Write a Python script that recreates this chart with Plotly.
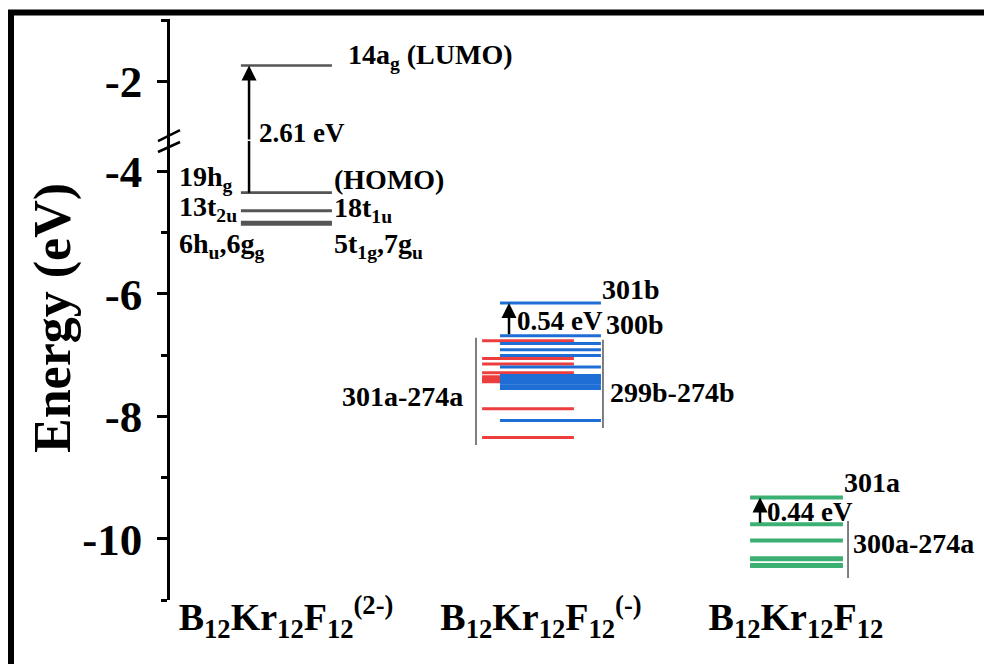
import plotly.graph_objects as go

# ---------------- data ----------------
categories = ["B<sub>12</sub>Kr<sub>12</sub>F<sub>12</sub><sup>(2-)</sup>",
              "B<sub>12</sub>Kr<sub>12</sub>F<sub>12</sub><sup>(-)</sup>",
              "B<sub>12</sub>Kr<sub>12</sub>F<sub>12</sub>"]
cat_pos = [1, 2, 3]

dianion_lumo = [-1.74]
dianion_occ = [-4.35, -4.645, -4.83, -4.865]
anion_alpha = [-6.767, -7.056, -7.148, -7.29, -7.355, -7.38, -7.40, -7.42, -7.437, -7.878, -8.346]
anion_beta = [-6.152, -6.686, -6.811, -6.914, -7.007, -7.197, -7.335, -7.36, -7.385, -7.41,
              -7.435, -7.46, -7.507, -7.545, -8.068]
neutral_alpha = [-9.325, -9.765, -10.03, -10.32, -10.335, -10.43, -10.445]

gaps = [2.61, 0.54, 0.44]

ytick_vals_low = [-10, -8, -6, -4]
ytick_text_low = ["-10", "-8", "-6", "-4"]
yminor_low = [-11, -9, -7, -5]
ytick_vals_high = [-2]
ytick_text_high = ["-2"]
yminor_high = [-1]

low_range = [-11, -3.506]
high_range = [-2.971, -0.98]
split = 0.790

FONT = "Liberation Serif"
GRAY = "#555555"
RED = "#EC3E3E"
BLUE = "#1F6ED6"
GREEN = "#3CB072"


def segs(levels, x0, x1):
    xs, ys = [], []
    for e in levels:
        xs += [x0, x1, None]
        ys += [e, e, None]
    return xs, ys


fig = go.Figure()


def add_levels(levels, center, left, right, color, width, yaxis="y"):
    xs, ys = segs(levels, center + left, center + right)
    fig.add_trace(go.Scatter(x=xs, y=ys, mode="lines", yaxis=yaxis,
                             line=dict(color=color, width=width),
                             hoverinfo="skip", showlegend=False))


add_levels(dianion_lumo, cat_pos[0], -0.177, 0.180, GRAY, 2.5, yaxis="y2")
add_levels(dianion_occ, cat_pos[0], -0.177, 0.180, GRAY, 2.8)
add_levels(anion_alpha, cat_pos[1], -0.231, 0.129, RED, 3)
add_levels(anion_beta, cat_pos[1], -0.161, 0.235, BLUE, 3)
add_levels(neutral_alpha, cat_pos[2], -0.180, 0.184, GREEN, 4)

# brackets
brackets = [(cat_pos[1] - 0.255, -6.72, -8.47), (cat_pos[1] + 0.243, -6.75, -8.19),
            (cat_pos[2] + 0.204, -9.71, -10.64)]
for bx, b0, b1 in brackets:
    fig.add_trace(go.Scatter(x=[bx, bx], y=[b0, b1], mode="lines",
                             line=dict(color=GRAY, width=1.5),
                             hoverinfo="skip", showlegend=False))

arrow_font = dict(family=FONT, size=27, color="black", weight="bold")
lab_font = dict(family=FONT, size=28, color="black", weight="bold")

# HOMO -> LUMO arrow across the axis break: shaft on lower axis + arrow on upper axis
ax1 = cat_pos[0] - 0.145
fig.add_trace(go.Scatter(x=[ax1, ax1], y=[dianion_occ[0], low_range[1]], mode="lines",
                         line=dict(color="black", width=2.5), hoverinfo="skip",
                         showlegend=False))
fig.add_annotation(x=ax1, y=dianion_lumo[0], xref="x", yref="y2",
                   ax=ax1, ay=high_range[0], axref="x", ayref="y2",
                   text="", showarrow=True, arrowhead=2, arrowsize=1.2, arrowwidth=2.5,
                   arrowcolor="black")
fig.add_annotation(x=cat_pos[1] - 0.1255, y=anion_beta[0], xref="x", yref="y",
                   ax=cat_pos[1] - 0.1255, ay=anion_beta[1], axref="x", ayref="y",
                   text="", showarrow=True, arrowhead=2, arrowsize=1.2, arrowwidth=2.5,
                   arrowcolor="black")
fig.add_annotation(x=cat_pos[2] - 0.141, y=neutral_alpha[0], xref="x", yref="y",
                   ax=cat_pos[2] - 0.141, ay=neutral_alpha[1], axref="x", ayref="y",
                   text="", showarrow=True, arrowhead=2, arrowsize=1.2, arrowwidth=2.5,
                   arrowcolor="black")

# labels: (text, x, y, yref, xanchor, font)
labels = [
    ("14a<sub>g</sub> (LUMO)", 1.235, -1.60, "y2", "left", lab_font),
    ("%.2f eV" % gaps[0], 0.888, -2.84, "y2", "left", arrow_font),
    ("19h<sub>g</sub>", 0.572, -4.12, "y", "left", lab_font),
    ("13t<sub>2u</sub>", 0.572, -4.60, "y", "left", lab_font),
    ("6h<sub>u</sub>,6g<sub>g</sub>", 0.572, -5.21, "y", "left", lab_font),
    ("(HOMO)", 1.18, -4.13, "y", "left", lab_font),
    ("18t<sub>1u</sub>", 1.18, -4.63, "y", "left", lab_font),
    ("5t<sub>1g</sub>,7g<sub>u</sub>", 1.18, -5.22, "y", "left", lab_font),
    ("301b", 2.231, -5.93, "y", "left", lab_font),
    ("%.2f eV" % gaps[1], 1.898, -6.45, "y", "left", arrow_font),
    ("300b", 2.247, -6.50, "y", "left", lab_font),
    ("301a-274a", 1.702, -7.68, "y", "right", lab_font),
    ("299b-274b", 2.263, -7.61, "y", "left", lab_font),
    ("301a", 3.18, -9.08, "y", "left", lab_font),
    ("%.2f eV" % gaps[2], 2.878, -9.555, "y", "left", arrow_font),
    ("300a-274a", 3.215, -10.08, "y", "left", lab_font),
]
for t, x, y, yr, xa, f in labels:
    fig.add_annotation(x=x, y=y, xref="x", yref=yr, text=t, showarrow=False,
                       xanchor=xa, yanchor="middle", font=f)

# y title
fig.add_annotation(x=-0.1453, y=0.4854, xref="paper", yref="paper", text="Energy (eV)",
                   textangle=-90, showarrow=False, xanchor="center", yanchor="middle",
                   font=dict(family=FONT, size=52, color="black", weight="bold"))

# axis break marks
for y0, y1 in [(0, 11), (-11, -1)]:
    fig.add_shape(type="line", xref="paper", yref="paper", xsizemode="pixel",
                  ysizemode="pixel", xanchor=0, yanchor=split, x0=-12, x1=10, y0=y0, y1=y1,
                  line=dict(color="black", width=2.5))

# outer frame
fig.add_shape(type="rect", xref="paper", yref="paper", x0=-0.1975, x1=1.3, y0=-0.4, y1=1.0112,
              line=dict(color="black", width=6), fillcolor="rgba(0,0,0,0)")

axis_common = dict(showline=True, linecolor="black", linewidth=2.5, ticks="outside",
                   ticklen=10, tickwidth=2.5, tickcolor="black", showgrid=False,
                   zeroline=False, tickmode="array",
                   tickfont=dict(family=FONT, size=45, color="black", weight="bold"),
                   ticklabelstandoff=6)

fig.update_layout(
    width=984, height=664,
    margin=dict(l=170, r=9, t=19, b=64),
    paper_bgcolor="white", plot_bgcolor="white",
    showlegend=False,
    xaxis=dict(range=[0.545, 3.702], showline=False, showgrid=False, zeroline=False,
               tickmode="array", tickvals=cat_pos, ticktext=categories, ticks="",
               tickfont=dict(family=FONT, size=38, color="black", weight="bold"),
               ticklabelstandoff=-9),
    yaxis=dict(domain=[0, split], range=low_range, tickvals=ytick_vals_low,
               ticktext=ytick_text_low,
               minor=dict(tickvals=yminor_low, ticklen=6, tickwidth=2.5, tickcolor="black",
                          ticks="outside"),
               **axis_common),
    yaxis2=dict(domain=[split, 1], range=high_range, tickvals=ytick_vals_high,
                ticktext=ytick_text_high, anchor="x",
                minor=dict(tickvals=yminor_high, ticklen=6, tickwidth=2.5, tickcolor="black",
                           ticks="outside"),
                **axis_common),
)

fig.write_html("out.html", config={"displayModeBar": False},
               post_script="document.body.style.margin='0';document.body.style.overflow='hidden';")
